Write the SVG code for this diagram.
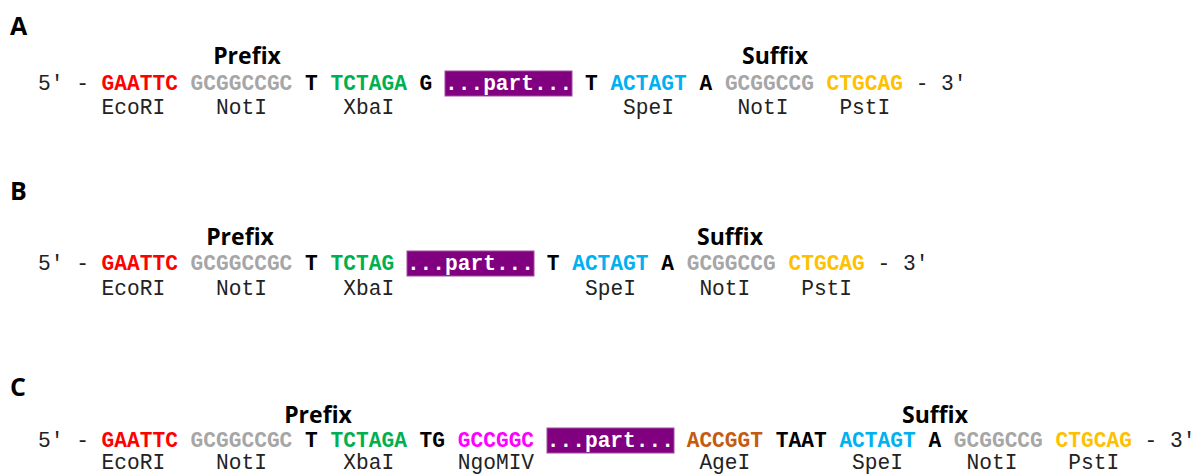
<svg xmlns="http://www.w3.org/2000/svg" width="1197" height="474" viewBox="0 0 1197 474">
<style>
.panel{font-family:"Open Sans","DejaVu Sans",sans-serif;font-weight:bold;font-size:25px;fill:#000}
.title{font-family:"Open Sans","DejaVu Sans",sans-serif;font-weight:bold;font-size:23px;fill:#000;text-anchor:middle}
.seq{font-family:"Liberation Mono","Courier New",monospace;font-size:21.2px;fill:#222}
.b{font-weight:bold;fill:#000}
.lab{font-family:"Liberation Mono","Courier New",monospace;font-size:21.2px;fill:#222}
.red{fill:#ff0000;font-weight:bold}
.grey{fill:#a6a6a6;font-weight:bold}
.green{fill:#00b050;font-weight:bold}
.blue{fill:#00b0f0;font-weight:bold}
.gold{fill:#ffc000;font-weight:bold}
.mag{fill:#ff00ff;font-weight:bold}
.orange{fill:#c55a11;font-weight:bold}
.box{fill:#800080;stroke:#a04da0;stroke-width:1}
.pt{fill:#fff;font-weight:bold}
</style>

<g id="panelA">
  <text class="panel" x="10" y="35">A</text>
  <text class="title" x="247" y="64">Prefix</text>
  <text class="title" x="775" y="64">Suffix</text>
  <rect class="box" x="445" y="71" width="127" height="25"/>
  <text class="seq" y="90">
    <tspan x="38">5'</tspan><tspan x="76.2">-</tspan>
    <tspan x="101.6" class="red">GAATTC</tspan>
    <tspan x="190.6" class="grey">GCGGCCGC</tspan>
    <tspan x="305.1" class="b">T</tspan>
    <tspan x="330.6" class="green">TCTAGA</tspan>
    <tspan x="419.6" class="b">G</tspan>
    <tspan x="445" class="pt">...part...</tspan>
    <tspan x="585" class="b">T</tspan>
    <tspan x="610.4" class="blue">ACTAGT</tspan>
    <tspan x="699.4" class="b">A</tspan>
    <tspan x="724.9" class="grey">GCGGCCG</tspan>
    <tspan x="826.6" class="gold">CTGCAG</tspan>
    <tspan x="915.7">-</tspan><tspan x="941.1">3'</tspan>
  </text>
  <text class="lab" y="114">
    <tspan x="101.6">EcoRI</tspan><tspan x="216.1">NotI</tspan><tspan x="343.3">XbaI</tspan>
    <tspan x="623.1">SpeI</tspan><tspan x="737.6">NotI</tspan><tspan x="839.4">PstI</tspan>
  </text>
</g>

<g id="panelB">
  <text class="panel" x="10" y="200">B</text>
  <text class="title" x="240" y="245">Prefix</text>
  <text class="title" x="730" y="245">Suffix</text>
  <rect class="box" x="407" y="251" width="127" height="25"/>
  <text class="seq" y="270">
    <tspan x="38">5'</tspan><tspan x="76.2">-</tspan>
    <tspan x="101.6" class="red">GAATTC</tspan>
    <tspan x="190.6" class="grey">GCGGCCGC</tspan>
    <tspan x="305.1" class="b">T</tspan>
    <tspan x="330.6" class="green">TCTAG</tspan>
    <tspan x="406.9" class="pt">...part...</tspan>
    <tspan x="546.8" class="b">T</tspan>
    <tspan x="572.2" class="blue">ACTAGT</tspan>
    <tspan x="661.3" class="b">A</tspan>
    <tspan x="686.7" class="grey">GCGGCCG</tspan>
    <tspan x="788.5" class="gold">CTGCAG</tspan>
    <tspan x="877.5">-</tspan><tspan x="903">3'</tspan>
  </text>
  <text class="lab" y="295">
    <tspan x="101.6">EcoRI</tspan><tspan x="216.1">NotI</tspan><tspan x="343.3">XbaI</tspan>
    <tspan x="585">SpeI</tspan><tspan x="699.4">NotI</tspan><tspan x="801.2">PstI</tspan>
  </text>
</g>

<g id="panelC">
  <text class="panel" x="10" y="396">C</text>
  <text class="title" x="318" y="423">Prefix</text>
  <text class="title" x="935" y="423">Suffix</text>
  <rect class="box" x="547" y="428" width="127" height="25"/>
  <text class="seq" y="447">
    <tspan x="38">5'</tspan><tspan x="76.2">-</tspan>
    <tspan x="101.6" class="red">GAATTC</tspan>
    <tspan x="190.6" class="grey">GCGGCCGC</tspan>
    <tspan x="305.1" class="b">T</tspan>
    <tspan x="330.6" class="green">TCTAGA</tspan>
    <tspan x="419.6" class="b">TG</tspan>
    <tspan x="457.8" class="mag">GCCGGC</tspan>
    <tspan x="546.8" class="pt">...part...</tspan>
    <tspan x="686.7" class="orange">ACCGGT</tspan>
    <tspan x="775.8" class="b">TAAT</tspan>
    <tspan x="839.4" class="blue">ACTAGT</tspan>
    <tspan x="928.4" class="b">A</tspan>
    <tspan x="953.8" class="grey">GCGGCCG</tspan>
    <tspan x="1055.6" class="gold">CTGCAG</tspan>
    <tspan x="1144.6">-</tspan><tspan x="1170.1">3'</tspan>
  </text>
  <text class="lab" y="469">
    <tspan x="101.6">EcoRI</tspan><tspan x="216.1">NotI</tspan><tspan x="343.3">XbaI</tspan>
    <tspan x="457.8">NgoMIV</tspan><tspan x="699.4">AgeI</tspan><tspan x="852.1">SpeI</tspan>
    <tspan x="966.6">NotI</tspan><tspan x="1068.3">PstI</tspan>
  </text>
</g>
</svg>
